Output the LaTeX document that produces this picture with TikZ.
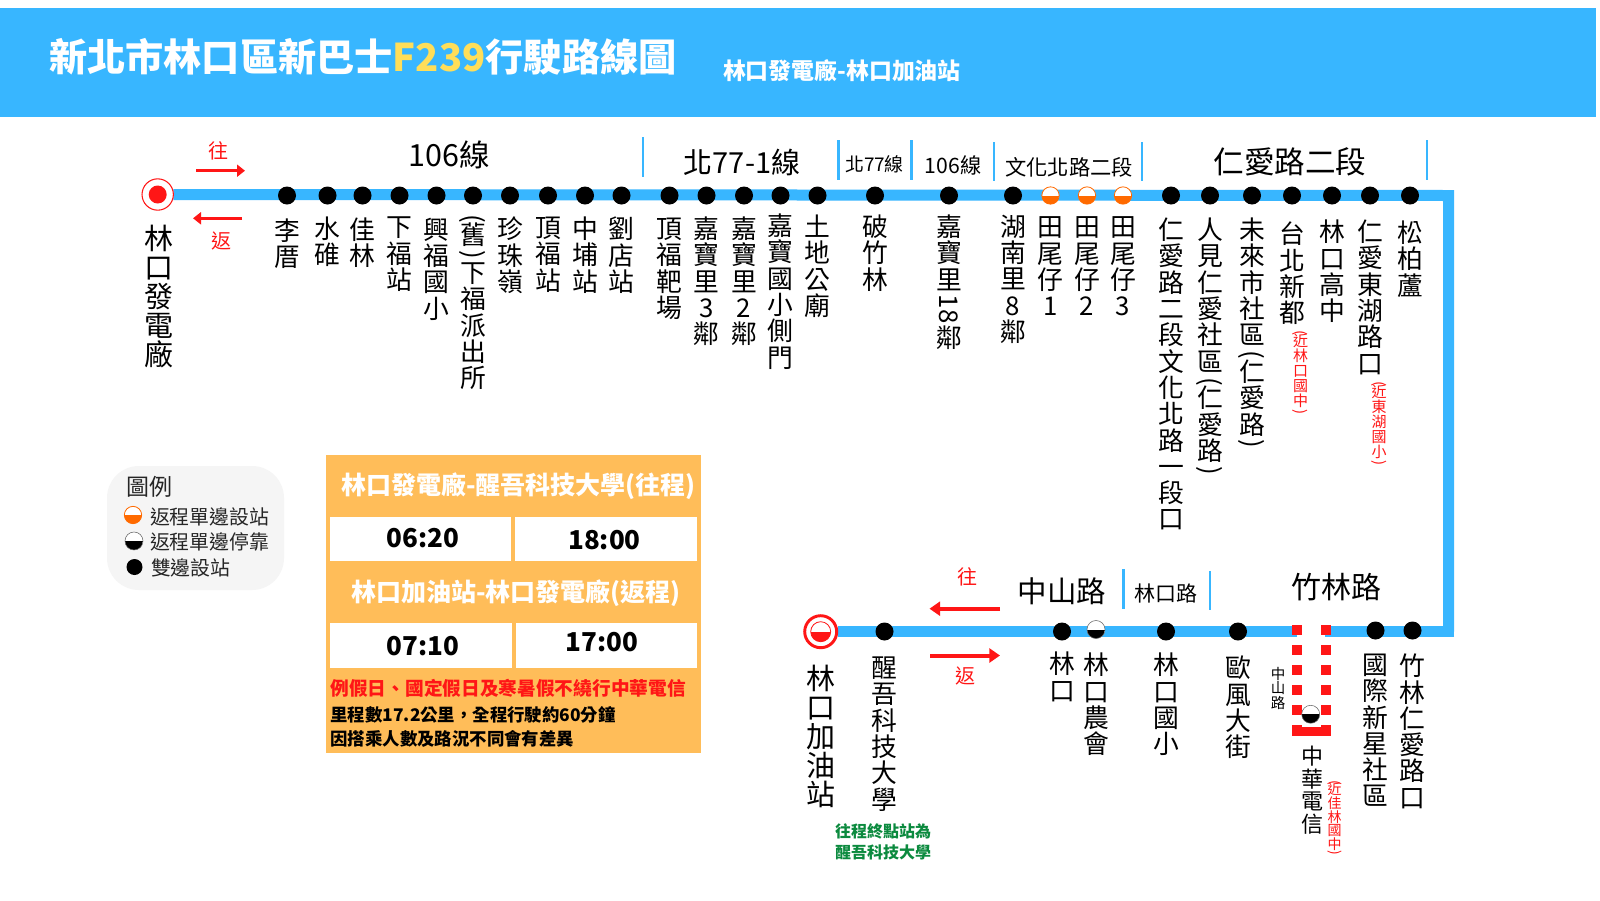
\documentclass[tikz,border=0pt]{standalone}
\usepackage{fontspec}
\setmainfont{Noto Sans CJK TC}
\usetikzlibrary{arrows.meta,backgrounds}
\definecolor{lineblue}{HTML}{38B6FF}
\definecolor{panel}{HTML}{FFBD59}
\definecolor{titleyellow}{HTML}{FFDE59}
\definecolor{rd}{HTML}{FF1616}
\definecolor{halforange}{HTML}{FF6A00}
\definecolor{grn}{HTML}{0B8A3E}
\definecolor{leg}{HTML}{F5F5F5}
\newcommand\fpx[2]{\fontsize{\the\dimexpr#1pt*3/4\relax}{\the\dimexpr#2pt*3/4\relax}\selectfont}
\newcommand\rot[1]{\rotatebox[origin=c]{-90}{#1}}
\lineskiplimit=-100pt
\tikzset{
  px/.style={inner sep=0pt,outer sep=0pt},
  stop/.style={px,circle,fill=black,minimum size=13.5pt},
  halfo/.style={px,circle,draw=halforange,line width=0.6pt,fill=white,minimum size=13pt,
    path picture={\fill[halforange] (path picture bounding box.west) rectangle (path picture bounding box.south east);}},
  halfb/.style={px,circle,draw=black!60,line width=0.4pt,fill=white,minimum size=13.5pt,
    path picture={\fill[black] (path picture bounding box.west) rectangle (path picture bounding box.south east);}},
  vl/.style={px,anchor=north,align=center,font=\fpx{25.8}{26.3}},
  vlb/.style={px,anchor=north,align=center,font=\fpx{29}{29}},
  vred/.style={px,anchor=north,align=center,text=rd,font=\fpx{15}{15}},
  sec/.style={px,anchor=center},
  sep/.style={draw=lineblue,line width=2pt},
  route/.style={draw=lineblue,line width=8.25pt,line join=miter},
  arS/.style={draw=rd,line width=2pt,-{Triangle[length=6pt,width=9pt]}},
  arL/.style={draw=rd,line width=3pt,-{Triangle[length=8pt,width=10.5pt]}},
  wbox/.style={draw=none,fill=white},
  tm/.style={px,font=\bfseries\fpx{26}{26}},
  hd/.style={px,anchor=west,text=white,font=\bfseries\fpx{25}{25}},
  note/.style={px,anchor=west,font=\bfseries\fpx{17.4}{18}},
  lg/.style={px,anchor=west,text=black!85,font=\fpx{19.9}{20}},
  redsm/.style={px,text=rd,font=\fpx{20}{20}},
}
\newcommand\stopl[5][stop]{\node[#1] (s#2) at (#3,195.5) {}; \node[vl] (l#2) at (#3,#4) {#5};}
\newcommand\stopb[6][stop]{\node[#1] (b#2) at (#3,#4) {}; \node[vl] (bl#2) at (#3,#5) {#6};}
\begin{document}
\begin{tikzpicture}[x=0.75pt,y=-0.75pt]
\useasboundingbox (0,0) rectangle (1600,900);
% header
\fill[lineblue] (0,8) rectangle (1596,117);
\node[px,anchor=west,text=white,font=\bfseries\fpx{38.2}{38}] (title) at (49,57) {新北市林口區新巴士\textcolor{titleyellow}{F239}行駛路線圖};
\node[px,anchor=west,text=white,font=\bfseries\fpx{22.9}{23}] (subtitle) at (723,70.5) {林口發電廠-林口加油站};
% section labels
\node[sec,font=\fpx{30.5}{30}] (t1) at (449,155) {106線};
\node[sec,font=\fpx{29}{29}] (t2) at (742,162) {北77-1線};
\node[sec,font=\fpx{18.9}{19}] (t3) at (874.5,164) {北77線};
\node[sec,font=\fpx{21.2}{21}] (t4) at (953,165.5) {106線};
\node[sec,font=\fpx{21.3}{22}] (t5) at (1069,167) {文化北路二段};
\node[sec,font=\fpx{30.6}{31}] (t6) at (1290,161.5) {仁愛路二段};
\node[sec,font=\fpx{29.5}{29}] (t7) at (1062,591) {中山路};
\node[sec,font=\fpx{21}{21}] (t8) at (1166,593) {林口路};
\node[sec,font=\fpx{30}{30}] (t9) at (1336,587.5) {竹林路};
% separators
\foreach \n/\x/\a/\b in {a/643/137/177,b/838.5/140/180,c/911.5/140/180,d/994/142/181,e/1142/142/181,f/1427/140/180,g/1123.5/569/609,h/1210/571/610}{
  \coordinate (sp\n a) at (\x,\a); \coordinate (sp\n b) at (\x,\b); \draw[sep] (sp\n a) -- (sp\n b);}
% direction arrows
\node[redsm] (wang1) at (218.5,151) {往};
\node[redsm] (fan1) at (221,240.5) {返};
\coordinate (a1s) at (196,170.7); \coordinate (a1e) at (245,170.7);
\coordinate (a2s) at (242,218.3); \coordinate (a2e) at (193,218.3);
\draw[arS] (a1s) -- (a1e);
\draw[arS] (a2s) -- (a2e);
\node[redsm] (wang2) at (967.5,577) {往};
\node[redsm] (fan2) at (965,676) {返};
\coordinate (a3s) at (1000,608.7); \coordinate (a3e) at (929.5,608.7);
\coordinate (a4s) at (930,655.5); \coordinate (a4e) at (1000,655.5);
\draw[arL] (a3s) -- (a3e);
\draw[arL] (a4s) -- (a4e);
% start
\node[px,circle,draw=rd,line width=0.8pt,fill=white,minimum size=23.5pt] (start) at (157.7,194.5) {};
\node[px,circle,fill=rd,minimum size=13.5pt] (startin) at (start) {};
\node[vlb] (startl) at (158.5,225) {林\\口\\發\\電\\廠};
% top stops
\stopl{1}{287}{219}{李\\厝}
\stopl{2}{327.5}{217}{水\\碓}
\stopl{3}{362.5}{218}{佳\\林}
\stopl{4}{399.5}{217}{下\\福\\站}
\stopl{5}{436.5}{218}{興\\福\\國\\小}
\stopl{6}{473}{214}{\rot{(}\\[-6pt]舊\\[-6pt]\rot{)}\\[-5pt]下\\福\\派\\出\\所}
\stopl{7}{510}{217}{珍\\珠\\嶺}
\stopl{8}{548}{217}{頂\\福\\站}
\stopl{9}{585}{217}{中\\埔\\站}
\stopl{10}{621.5}{217}{劉\\店\\站}
\stopl{11}{669.5}{218}{頂\\福\\靶\\場}
\stopl{12}{706.5}{217}{嘉\\寶\\里\\3\\鄰}
\stopl{13}{744}{217}{嘉\\寶\\里\\2\\鄰}
\stopl{14}{780.5}{214}{嘉\\寶\\國\\小\\側\\門}
\stopl{15}{817.5}{215}{土\\地\\公\\廟}
\stopl{16}{875}{215}{破\\竹\\林}
\stopl{17}{949}{215}{嘉\\寶\\里\\[2pt]\rot{18}\\[2pt]鄰}
\stopl{18}{1013}{215}{湖\\南\\里\\8\\鄰}
\stopl[halfo]{19}{1050.5}{217}{田\\尾\\仔\\1}
\stopl[halfo]{20}{1087}{217}{田\\尾\\仔\\2}
\stopl[halfo]{21}{1123}{217}{田\\尾\\仔\\3}
\stopl{22}{1171}{218}{仁\\愛\\路\\二\\段\\文\\化\\北\\路\\一\\段\\口}
\stopl{23}{1210}{218}{人\\見\\仁\\愛\\社\\區\\[-6pt]\rot{(}\\[-6pt]仁\\愛\\路\\[-6pt]\rot{)}}
\stopl{24}{1252}{218}{未\\來\\市\\社\\區\\[-6pt]\rot{(}\\[-6pt]仁\\愛\\路\\[-6pt]\rot{)}}
\stopl{25}{1292}{222}{台\\北\\新\\都}
\stopl{26}{1332}{220}{林\\口\\高\\中}
\stopl{27}{1370}{220}{仁\\愛\\東\\湖\\路\\口}
\stopl{28}{1410}{221}{松\\柏\\蘆}
\node[vred] (n25) at (1300.5,330) {\rot{(}\\[-4pt]近\\林\\口\\國\\中\\[-4pt]\rot{)}};
\node[vred] (n27) at (1379,381) {\rot{(}\\[-4pt]近\\東\\湖\\國\\小\\[-4pt]\rot{)}};
% bottom stops
\stopb{1}{884.5}{631.5}{657}{醒\\吾\\科\\技\\大\\學}
\stopb{2}{1062}{631.5}{652}{林\\口}
\stopb[halfb]{3}{1096}{629.5}{653}{林\\口\\農\\會}
\stopb{4}{1166}{631.5}{653}{林\\口\\國\\小}
\stopb{5}{1238}{631.5}{656}{歐\\風\\大\\街}
\stopb{6}{1375.5}{630.5}{654}{國\\際\\新\\星\\社\\區}
\stopb{7}{1412.5}{630.5}{654}{竹\\林\\仁\\愛\\路\\口}
\node[px,circle,draw=rd,line width=2.2pt,fill=white,minimum size=24pt] (term) at (820.7,631.7) {};
\node[px,circle,draw=rd,line width=0.6pt,fill=white,minimum size=15pt,
  path picture={\fill[rd] (path picture bounding box.west) rectangle (path picture bounding box.south east);}] (termin) at (term) {};
\node[vlb] (terml) at (821,665) {林\\口\\加\\油\\站};
% red detour
\fill[rd] (1292,725) rectangle (1302,736);
\fill[rd] (1321,725) rectangle (1330.5,736);
\fill[rd] (1302,726.7) rectangle (1321,736);
\coordinate (dla) at (1297,625); \coordinate (dlb) at (1297,725);
\coordinate (dra) at (1325.8,625); \coordinate (drb) at (1325.8,725);
\draw[rd,line width=7.4pt,dash pattern=on 7.8pt off 7.2pt] (dla) -- (dlb);
\draw[rd,line width=7.1pt,dash pattern=on 7.8pt off 7.2pt] (dra) -- (drb);
\node[halfb] (zh) at (1310.7,714.3) {};
\node[px,anchor=north,align=center,font=\fpx{22}{22.7}] (zhl) at (1312,746) {中\\華\\電\\信};
\node[px,anchor=north,align=center,font=\fpx{14.5}{14.5}] (zs) at (1278,667) {中\\山\\路};
\node[px,anchor=north,align=center,text=rd,font=\fpx{14}{13.6}] (n31) at (1334.5,780) {\rot{(}\\[-4pt]近\\佳\\林\\國\\中\\[-4pt]\rot{)}};
\node[px,anchor=center,align=center,text=grn,font=\bfseries\fpx{16}{21}] (gn) at (883,842) {往程終點站為\\醒吾科技大學};
% route
\coordinate (cor1) at (1448.5,195.5);
\coordinate (cor2) at (1448.5,631.5);
\coordinate (cor3) at (1454,631.5);
\coordinate (gapr) at (1325,631.5);
\coordinate (gapl) at (1297,631.5);
\coordinate (lineend) at (838,631.5);
\begin{pgfonlayer}{background}
\fill[white] (0,0) rectangle (1600,900);
\draw[route] (start) -- (cor1) -- (cor2);
\draw[route] (cor3) -- (gapr);
\draw[route] (gapl) -- (lineend);
\end{pgfonlayer}
% legend
\fill[leg,rounded corners=24pt] (107,466) rectangle (284,590);
\node[px,anchor=west,text=black!85,font=\fpx{23}{23}] (lt) at (126,487) {圖例};
\node[halfo] (li1) at (133,515) {};
\node[lg] (lx1) at (150,516.5) {返程單邊設站};
\node[halfb] (li2) at (134,541) {};
\node[lg] (lx2) at (150,542) {返程單邊停靠};
\node[stop,minimum size=12pt] (li3) at (134.5,567) {};
\node[lg] (lx3) at (151,568) {雙邊設站};
% panel
\fill[panel] (326,455) rectangle (701,753);
\fill[wbox] (330,517) rectangle (511,561);
\fill[wbox] (515,517) rectangle (697,561);
\fill[wbox] (330,623) rectangle (512,668);
\fill[wbox] (516,623) rectangle (697,668);
\node[hd] (h1) at (341,486.5) {林口發電廠-醒吾科技大學(往程)};
\node[hd] (h2) at (351,593.5) {林口加油站-林口發電廠(返程)};
\node[tm] (t0620) at (423,538) {06:20};
\node[tm] (t1800) at (604.5,540) {18:00};
\node[tm] (t0710) at (423,646.5) {07:10};
\node[tm] (t1700) at (602,642) {17:00};
\node[note,text=rd,font=\bfseries\fpx{18.7}{19}] (nr) at (330.5,688) {例假日、國定假日及寒暑假不繞行中華電信};
\node[note] (n1) at (330.5,715) {里程數17.2公里，全程行駛約60分鐘};
\node[note] (n2) at (330.5,739) {因搭乘人數及路況不同會有差異};
\end{tikzpicture}
\end{document}
